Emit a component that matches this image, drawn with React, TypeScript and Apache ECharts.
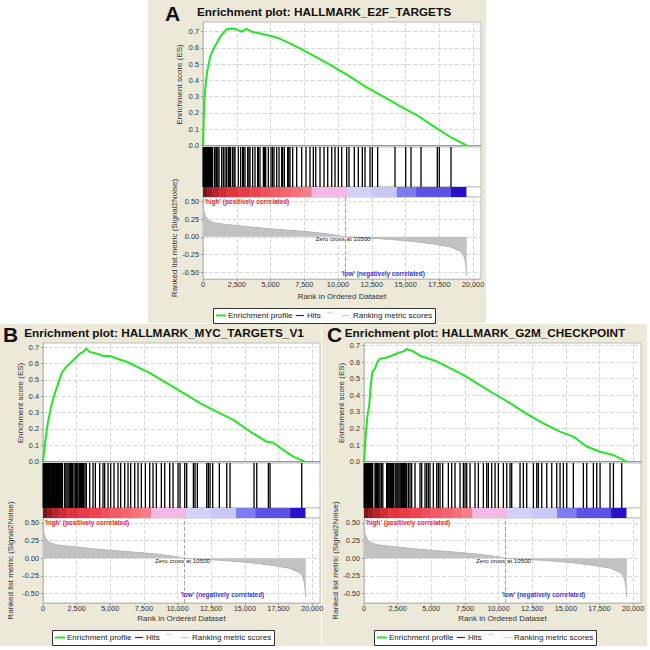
import React, { useEffect, useRef } from 'react';
import * as echarts from 'echarts';

const FONT = '"Liberation Sans", Arial, Helvetica, sans-serif';

// ---------- data ----------
const xTickValues = [0, 2500, 5000, 7500, 10000, 12500, 15000, 17500, 20000];
const esTicks = [0, 0.1, 0.2, 0.3, 0.4, 0.5, 0.6, 0.7];
const metricTicks = [-0.5, -0.25, 0, 0.25, 0.5];
const rankMax = 20590;
const zeroCross = 10500;

const esA = [[0,0],[99,0.28],[198,0.38],[321,0.46],[518,0.54],[691,0.58],[889,0.61],[1136,0.65],[1383,0.68],[1753,0.715],[2123,0.72],[2494,0.715],[2864,0.70],[3234,0.717],[3605,0.70],[3975,0.694],[4716,0.68],[5457,0.665],[6444,0.628],[7432,0.587],[8420,0.542],[9655,0.485],[10889,0.423],[12123,0.357],[13358,0.30],[14593,0.242],[15827,0.187],[17062,0.119],[18296,0.053],[19531,0]];
const esB = [[0,0],[149,0.11],[273,0.19],[397,0.255],[644,0.35],[892,0.42],[1140,0.48],[1388,0.54],[1636,0.57],[2007,0.60],[2379,0.63],[2751,0.66],[3000,0.67],[3197,0.69],[3494,0.67],[3990,0.66],[4486,0.645],[4981,0.645],[5477,0.63],[6220,0.61],[6964,0.58],[7955,0.54],[9195,0.48],[10434,0.42],[11673,0.357],[12912,0.306],[14151,0.255],[15390,0.184],[16630,0.122],[17125,0.116],[17868,0.071],[18612,0.031],[19480,0]];
const esC = [[0,0],[124,0.15],[248,0.27],[397,0.35],[496,0.45],[620,0.54],[818,0.56],[991,0.60],[1190,0.62],[1561,0.624],[2057,0.638],[2553,0.654],[2924,0.664],[3172,0.678],[3668,0.664],[4164,0.638],[4660,0.624],[5403,0.604],[6394,0.563],[7386,0.523],[8377,0.473],[9616,0.412],[10855,0.352],[12094,0.288],[13333,0.231],[14573,0.181],[15564,0.151],[16556,0.091],[17547,0.06],[18538,0.04],[19530,0]];

const hitsA = [10,40,70,100,130,160,190,220,250,290,330,370,410,450,500,540,590,640,690,
  839,900,1012,1100,1185,1383,1506,1630,1753,1876,1950,2049,2197,2300,2370,2617,2790,2938,3000,3111,3309,3400,3481,3679,3852,4049,4100,4222,4469,4550,4642,4839,5037,5150,5259,5457,5630,5827,5900,6024,6271,6350,6444,6642,
  6940,7310,7630,7925,8172,8350,8667,8963,9237,9533,9778,10025,10274,10644,10815,11207,11503,11800,12000,12370,12541,12937,14222,15013,15407,16148,17353,17501,18370];
const hitsB = [10,60,110,160,210,260,310,360,420,480,540,600,650,700,750,800,850,900,950,1000,1050,1100,1150,1200,1250,1300,1350,1400,1450,
  1611,1700,1785,1870,1983,2050,2107,2200,2305,2400,2479,2540,2602,2700,2780,2850,2940,3024,3120,3222,3470,3718,3891,4213,4461,4585,4833,5031,5279,5576,5775,6072,6320,6518,6816,7064,7311,7609,7931,8179,8427,8799,9047,9418,9666,10038,10186,10534,10680,11180,11300,11473,12171,12290,12417,12615,13110,13658,13903,15687,15889,16754,16877,19234];
const hitsC = [10,50,90,130,170,210,250,290,330,370,410,450,500,550,600,650,
  818,870,930,990,1050,1110,1190,1300,1400,1686,1740,1800,1860,1920,1980,2050,2120,2180,2305,2380,2450,2520,2600,2680,2750,2800,2875,2940,3000,3060,3122,3173,3300,3420,3544,3792,4163,4288,4535,4660,4783,4907,5155,5403,5527,5651,5849,6270,6518,6766,7137,7386,7510,7634,7882,8253,8501,8873,9121,9245,9493,9741,9989,10361,10609,10855,10979,11599,11845,12095,12590,12840,12960,13212,13584,13955,14327,14573,14820,15070,15562,16306,16555,17050,17300,17547,18290,18540,19160];

const metric = [[0,0.46],[25,0.42],[74,0.35],[148,0.31],[272,0.26],[518,0.22],[1012,0.19],[2247,0.165],[3481,0.14],[4716,0.118],[5951,0.10],[7185,0.082],[8420,0.06],[9655,0.03],[10500,0],[12123,-0.014],[13358,-0.03],[14593,-0.047],[15827,-0.07],[17062,-0.10],[18296,-0.14],[19037,-0.2],[19284,-0.25],[19407,-0.33],[19481,-0.42],[19531,-0.55]];

const barStarts = [0,300,700,1200,1800,2600,3500,4300,5000,5800,6600,7300,8050,10640,12500,14350,15780,18370];
const barEnd = 19480;
const barColors = ['#7a1616','#9a1c22','#b8242c','#d02c36','#e0343f','#ea3c48','#ee4452','#f0505c','#f25a66','#f36670','#f4727c','#f57e88','#f4b8e6','#d3d1f7','#c9c7f6','#7d7cf1','#5c52e6','#2a10c8'];

const titles = ['Enrichment plot: HALLMARK_E2F_TARGETS','Enrichment plot: HALLMARK_MYC_TARGETS_V1','Enrichment plot: HALLMARK_G2M_CHECKPOINT'];
const letters = ['A','B','C'];
const legendLabels = ['Enrichment profile','Hits','Ranking metric scores'];

// ---------- layout ----------
const panels = [
  { es: esA, hits: hitsA, left: 203, width: 278, esTop: 22, esH: 125, hitsH: 40, barH: 10, rankH: 82,
    esMin: -0.01, esMax: 0.76, rMin: -0.594, rMax: 0.562, esGap: 20, rGap: 24,
    titleX: 324, titleY: 12, letterX: 165, letterY: 13, legX: 213, legY: 308, bg: [148, 0, 338, 323] },
  { es: esB, hits: hitsB, left: 43, width: 277, esTop: 343, esH: 120, hitsH: 45, barH: 10, rankH: 85,
    esMin: -0.008, esMax: 0.7245, rMin: -0.632, rMax: 0.57, esGap: 19, rGap: 29,
    titleX: 164, titleY: 333, letterX: 3, letterY: 334, legX: 52, legY: 630, bg: [0, 324, 321, 322] },
  { es: esC, hits: hitsC, left: 364, width: 277, esTop: 343, esH: 120, hitsH: 45, barH: 10, rankH: 85,
    esMin: -0.008, esMax: 0.7145, rMin: -0.632, rMax: 0.57, esGap: 18, rGap: 25,
    titleX: 485, titleY: 333, letterX: 327, letterY: 334, legX: 374, legY: 630, bg: [322, 324, 325, 322] },
];

const fmtRank = (v: number) => String(Math.round(v)).replace(/\B(?=(\d{3})+(?!\d))/g, ',');

function buildOption() {
  const grid: any[] = [];
  const xAxis: any[] = [];
  const yAxis: any[] = [];
  const series: any[] = [];
  const graphic: any[] = [];

  const dashed = { show: true, lineStyle: { color: '#d9d9d9', type: 'dashed', width: 1 } };
  const gridBase = { show: true, backgroundColor: '#fff', borderColor: '#bdbdbd', borderWidth: 1 };

  panels.forEach((p, i) => {
    const tops = [p.esTop, p.esTop + p.esH, p.esTop + p.esH + p.hitsH, p.esTop + p.esH + p.hitsH + p.barH];
    const hs = [p.esH, p.hitsH, p.barH, p.rankH];
    for (let k = 0; k < 4; k++) {
      grid.push({ ...gridBase, left: p.left, width: p.width, top: tops[k], height: hs[k] });
    }
    const b = i * 4;
    xAxis.push({ type: 'value', gridIndex: b, min: 0, max: rankMax,
      axisLabel: { show: false, customValues: xTickValues }, axisTick: { show: false, customValues: xTickValues },
      axisLine: { show: true, onZero: true, lineStyle: { color: '#9a9a9a' } }, splitLine: dashed });
    yAxis.push({ type: 'value', gridIndex: b, min: p.esMin, max: p.esMax,
      name: 'Enrichment score (ES)', nameLocation: 'middle', nameGap: p.esGap,
      nameTextStyle: { fontSize: 8, color: '#333', fontFamily: FONT },
      axisLabel: { customValues: esTicks, formatter: (v: number) => v.toFixed(1), fontSize: 7.3, color: '#333', margin: 4, fontFamily: FONT },
      axisTick: { show: true, customValues: esTicks, length: 2, lineStyle: { color: '#999' } },
      axisLine: { show: true, lineStyle: { color: '#bdbdbd' } }, splitLine: dashed });
    xAxis.push({ type: 'value', gridIndex: b + 1, min: 0, max: rankMax, show: false, splitLine: { show: false } });
    yAxis.push({ type: 'value', gridIndex: b + 1, min: 0, max: 1, show: false, splitLine: { show: false } });
    xAxis.push({ type: 'value', gridIndex: b + 2, min: 0, max: rankMax, show: false, splitLine: { show: false } });
    yAxis.push({ type: 'value', gridIndex: b + 2, min: 0, max: 1, show: false, splitLine: { show: false } });
    xAxis.push({ type: 'value', gridIndex: b + 3, min: 0, max: rankMax,
      name: 'Rank in Ordered Dataset', nameLocation: 'middle', nameGap: i === 0 ? 13 : 11,
      nameTextStyle: { fontSize: 8, color: '#333', fontFamily: FONT },
      axisLabel: { customValues: xTickValues, formatter: fmtRank, fontSize: 7.3, color: '#333', margin: 2, fontFamily: FONT },
      axisTick: { show: true, customValues: xTickValues, length: 2, lineStyle: { color: '#999' } },
      axisLine: { show: true, onZero: false, lineStyle: { color: '#bdbdbd' } }, splitLine: dashed });
    yAxis.push({ type: 'value', gridIndex: b + 3, min: p.rMin, max: p.rMax,
      name: 'Ranked list metric (Signal2Noise)', nameLocation: 'middle', nameGap: p.rGap,
      nameTextStyle: { fontSize: 8, color: '#333', fontFamily: FONT },
      axisLabel: { customValues: metricTicks, formatter: (v: number) => v.toFixed(2), fontSize: 7.3, color: '#333', margin: 4, fontFamily: FONT },
      axisTick: { show: true, customValues: metricTicks, length: 2, lineStyle: { color: '#999' } },
      axisLine: { show: true, lineStyle: { color: '#bdbdbd' } }, splitLine: dashed });

    series.push({ type: 'line', xAxisIndex: b, yAxisIndex: b, data: p.es, showSymbol: false, symbol: 'none',
      lineStyle: { color: '#22e622', width: 2 }, z: 5 });

    series.push({ type: 'custom', xAxisIndex: b + 1, yAxisIndex: b + 1, data: p.hits.map((h) => [h]),
      renderItem: (params: any, api: any) => {
        const cs = params.coordSys;
        const x = api.coord([api.value(0), 0.5])[0];
        return { type: 'line', silent: true, shape: { x1: x, y1: cs.y, x2: x, y2: cs.y + cs.height },
          style: { stroke: '#000', lineWidth: 1.3 } };
      } });

    series.push({ type: 'custom', xAxisIndex: b + 2, yAxisIndex: b + 2,
      data: barStarts.map((s, k) => [s, k + 1 < barStarts.length ? barStarts[k + 1] : barEnd]),
      renderItem: (params: any, api: any) => {
        const cs = params.coordSys;
        const x1 = api.coord([api.value(0), 0.5])[0];
        const x2 = api.coord([api.value(1), 0.5])[0];
        return { type: 'rect', silent: true, shape: { x: x1, y: cs.y, width: x2 - x1 + 0.4, height: cs.height },
          style: { fill: barColors[params.dataIndex] } };
      } });

    const lbl = (text: string, color: string, size: number, weight: string, pos: string) => ({
      show: true, formatter: text, color, fontSize: size, fontWeight: weight, fontFamily: FONT, position: pos, distance: 1,
    });
    series.push({ type: 'line', xAxisIndex: b + 3, yAxisIndex: b + 3, data: metric, showSymbol: false, symbol: 'none',
      lineStyle: { color: '#b5b5b5', width: 1 }, areaStyle: { color: '#c2c2c2', opacity: 1 }, z: 3,
      markLine: { silent: true, symbol: 'none', label: { show: false },
        lineStyle: { color: '#a8a8a8', type: 'dashed', width: 1 }, data: [{ xAxis: zeroCross }] },
      markPoint: { silent: true, symbol: 'rect', symbolSize: 1, itemStyle: { color: 'rgba(0,0,0,0)' },
        data: [
          { coord: [0, 0.505], label: lbl("'high' (positively correlated)", '#e5262e', 6.4, 'bold', 'right') },
          { coord: [10370, -0.025], label: lbl('Zero cross at 10500', '#222', 6.2, 'normal', 'inside') },
          { coord: [13333, -0.515], label: lbl("'low' (negatively correlated)", '#3434e0', 6.4, 'bold', 'inside') },
        ] } });

    graphic.push({ type: 'rect', z: -10, silent: true, shape: { x: p.bg[0], y: p.bg[1], width: p.bg[2], height: p.bg[3] },
      style: { fill: '#ECE9D8' } });
    graphic.push({ type: 'text', x: p.titleX, y: p.titleY, silent: true,
      style: { text: titles[i], fontSize: 11.8, fontWeight: 'bold', fontFamily: FONT, fill: '#111', textAlign: 'center', textVerticalAlign: 'middle', verticalAlign: 'middle' } });
    graphic.push({ type: 'text', x: p.letterX, y: p.letterY, silent: true,
      style: { text: letters[i], fontSize: 21, fontWeight: 'bold', fontFamily: FONT, fill: '#111', textAlign: 'left', textVerticalAlign: 'middle', verticalAlign: 'middle' } });
    const lx = p.legX, ly = p.legY, mid = p.legY + 7.5;
    const tstyle = (t: string) => ({ text: t, fontSize: 8, fontFamily: FONT, fill: '#222', textAlign: 'left', textVerticalAlign: 'middle', verticalAlign: 'middle' });
    graphic.push({ type: 'group', silent: true, children: [
      { type: 'rect', shape: { x: lx + 0.5, y: ly + 0.5, width: 222, height: 15 }, style: { fill: '#fff', stroke: '#333', lineWidth: 1 } },
      { type: 'line', shape: { x1: lx + 3, y1: mid, x2: lx + 13, y2: mid }, style: { stroke: '#22e622', lineWidth: 2 } },
      { type: 'text', x: lx + 15, y: mid, style: tstyle(legendLabels[0]) },
      { type: 'line', shape: { x1: lx + 83, y1: mid, x2: lx + 91, y2: mid }, style: { stroke: '#333', lineWidth: 1.2 } },
      { type: 'text', x: lx + 94, y: mid, style: tstyle(legendLabels[1]) },
      { type: 'line', shape: { x1: lx + 114, y1: mid - 3, x2: lx + 120, y2: mid - 3 }, style: { stroke: '#dcdcdc', lineWidth: 1.5 } },
      { type: 'line', shape: { x1: lx + 129, y1: mid, x2: lx + 137, y2: mid }, style: { stroke: '#cfcfcf', lineWidth: 1.2 } },
      { type: 'text', x: lx + 140, y: mid, style: tstyle(legendLabels[2]) },
    ] });
  });

  return { animation: false, backgroundColor: '#fff', textStyle: { fontFamily: FONT }, grid, xAxis, yAxis, series, graphic };
}

export default function App() {
  const ref = useRef<HTMLDivElement>(null);
  useEffect(() => {
    if (!ref.current) return;
    const chart = echarts.init(ref.current, undefined, { renderer: 'svg' });
    chart.setOption(buildOption() as any);
    return () => chart.dispose();
  }, []);
  return <div ref={ref} style={{ position: 'absolute', left: 0, top: 0, width: 650, height: 650 }} />;
}
